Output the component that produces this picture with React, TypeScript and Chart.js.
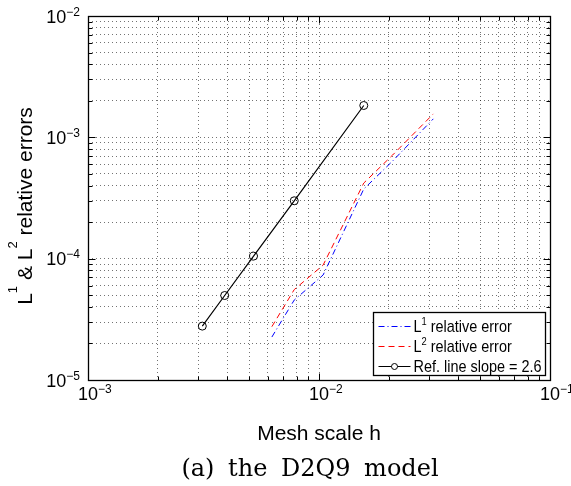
import { useEffect, useRef } from 'react';
import { Chart, registerables } from 'chart.js';

Chart.register(...registerables);

// Mesh scales h and the measured relative errors of the simulation
const meshH = [0.00625, 0.0078125, 0.0104167, 0.015625, 0.0208333, 0.03125];
const l1Err = [2.26e-5, 4.56e-5, 7.33e-5, 3.75e-4, 6.38e-4, 1.42e-3];
const l2Err = [2.75e-5, 5.56e-5, 8.85e-5, 4.2e-4, 7.15e-4, 1.56e-3];

// Reference line of slope 2.6
const refH = [0.003125, 0.00390625, 0.00520833, 0.0078125, 0.015625];
const refErr = [2.78e-5, 4.97e-5, 1.05e-4, 3.0e-4, 1.83e-3];

// Axis decades (exponents of the labelled ticks)
const xDecades = [-3, -2, -1];
const yDecades = [-5, -4, -3, -2];

const legendItems = [
  { base: 'L', sup: '1', rest: ' relative error' },
  { base: 'L', sup: '2', rest: ' relative error' },
  { base: 'Ref. line slope = 2.6', sup: '', rest: '' },
];

const xTitle = 'Mesh scale h';
const caption = '(a) the D2Q9 model';

const SANS = '"Liberation Sans", Arial, Helvetica, sans-serif';

function logTicks(decades: number[]): number[] {
  const out: number[] = [];
  for (let i = 0; i < decades.length - 1; i++) {
    for (let m = 1; m <= 9; m++) out.push(m * Math.pow(10, decades[i]));
  }
  out.push(Math.pow(10, decades[decades.length - 1]));
  return out;
}

type Run = { text: string; sup?: boolean };

function runsWidth(ctx: CanvasRenderingContext2D, runs: Run[], font: string, supFont: string) {
  let w = 0;
  for (const r of runs) {
    ctx.font = r.sup ? supFont : font;
    w += ctx.measureText(r.text).width;
  }
  return w;
}

function drawRuns(
  ctx: CanvasRenderingContext2D,
  runs: Run[],
  x: number,
  y: number,
  font: string,
  supFont: string,
  raise: number
) {
  let cx = x;
  ctx.textAlign = 'left';
  ctx.textBaseline = 'alphabetic';
  for (const r of runs) {
    ctx.font = r.sup ? supFont : font;
    ctx.fillText(r.text, cx, r.sup ? y - raise : y);
    cx += ctx.measureText(r.text).width;
  }
}

function itemRuns(item: { base: string; sup: string; rest: string }): Run[] {
  const runs: Run[] = [{ text: item.base }];
  if (item.sup) runs.push({ text: item.sup, sup: true });
  if (item.rest) runs.push({ text: item.rest });
  return runs;
}

const decorPlugin = {
  id: 'decor',
  afterDraw(chart: any) {
    const ctx: CanvasRenderingContext2D = chart.ctx;
    const { left, right, top, bottom } = chart.chartArea;
    const xs = chart.scales.x;
    const ys = chart.scales.y;
    const L = Math.round(left) + 0.5;
    const R = Math.round(right) + 0.5;
    const T = Math.round(top) + 0.5;
    const B = Math.round(bottom) + 0.5;

    ctx.save();
    ctx.strokeStyle = '#000';
    ctx.fillStyle = '#000';
    ctx.lineWidth = 1;

    // inward tick marks on all four sides
    const isMajor = (v: number) => Math.abs(Math.log10(v) - Math.round(Math.log10(v))) < 1e-9;
    ctx.beginPath();
    for (const v of logTicks(xDecades)) {
      const px = Math.round(xs.getPixelForValue(v)) + 0.5;
      const len = isMajor(v) ? 7 : 4;
      ctx.moveTo(px, B);
      ctx.lineTo(px, B - len);
      ctx.moveTo(px, T);
      ctx.lineTo(px, T + len);
    }
    for (const v of logTicks(yDecades)) {
      const py = Math.round(ys.getPixelForValue(v)) + 0.5;
      const len = isMajor(v) ? 7 : 4;
      ctx.moveTo(L, py);
      ctx.lineTo(L + len, py);
      ctx.moveTo(R, py);
      ctx.lineTo(R - len, py);
    }
    ctx.stroke();

    // axes box
    ctx.lineWidth = 1.3;
    ctx.strokeRect(L, T, R - L, B - T);

    const tickFont = `18px ${SANS}`;
    const tickSup = `12px ${SANS}`;

    // y tick labels 10^n
    for (const e of yDecades) {
      const py = ys.getPixelForValue(Math.pow(10, e));
      const runs: Run[] = [{ text: '10' }, { text: '\u2212' + Math.abs(e), sup: true }];
      const w = runsWidth(ctx, runs, tickFont, tickSup);
      drawRuns(ctx, runs, left - 8 - w, py + 6.5, tickFont, tickSup, 7);
    }

    // x tick labels 10^n
    for (const e of xDecades) {
      const px = xs.getPixelForValue(Math.pow(10, e));
      ctx.font = tickFont;
      const bw = ctx.measureText('10').width;
      const runs: Run[] = [{ text: '10' }, { text: '\u2212' + Math.abs(e), sup: true }];
      drawRuns(ctx, runs, px - bw / 2, bottom + 19.5, tickFont, tickSup, 7);
    }

    // x axis title
    ctx.font = `21px ${SANS}`;
    ctx.textAlign = 'center';
    ctx.textBaseline = 'alphabetic';
    ctx.fillText(xTitle, (left + right) / 2, bottom + 60);

    // y axis title (rotated)
    const yRuns: Run[] = [
      { text: 'L' },
      { text: '1', sup: true },
      { text: ' & L' },
      { text: '2', sup: true },
      { text: ' relative errors' },
    ];
    const titleFont = `21px ${SANS}`;
    const titleSup = `13px ${SANS}`;
    ctx.save();
    ctx.translate(32, (top + bottom) / 2 + 8);
    ctx.rotate(-Math.PI / 2);
    const yw = runsWidth(ctx, yRuns, titleFont, titleSup);
    drawRuns(ctx, yRuns, -yw / 2, 0, titleFont, titleSup, 15);
    ctx.restore();

    // legend
    const bw = 172;
    const bh = 63;
    const bx = Math.round(right - 5 - bw) + 0.5;
    const by = Math.round(bottom - 5 - bh) + 0.5;
    ctx.fillStyle = '#fff';
    ctx.fillRect(bx, by, bw, bh);
    ctx.strokeStyle = '#000';
    ctx.lineWidth = 1.3;
    ctx.strokeRect(bx, by, bw, bh);

    const sampleStyles = [
      { color: '#0000ff', dash: [6, 3, 1, 3] },
      { color: '#ff0000', dash: [6, 4] },
      { color: '#000000', dash: [] as number[] },
    ];
    const legFont = `17px ${SANS}`;
    const legSup = `11px ${SANS}`;
    const textStart = bx + 40;
    const textRoom = bw - 44;
    const widest = Math.max(...legendItems.map((it) => runsWidth(ctx, itemRuns(it), legFont, legSup)));
    const sx = Math.min(1, textRoom / widest);
    legendItems.forEach((item, i) => {
      const cy = by + 13 + i * 20;
      const s = sampleStyles[i];
      ctx.save();
      ctx.strokeStyle = s.color;
      ctx.lineWidth = 1;
      ctx.setLineDash(s.dash);
      ctx.beginPath();
      ctx.moveTo(bx + 5, Math.round(cy) + 0.5);
      ctx.lineTo(bx + 37, Math.round(cy) + 0.5);
      ctx.stroke();
      ctx.setLineDash([]);
      if (i === 2) {
        ctx.fillStyle = '#fff';
        ctx.beginPath();
        ctx.arc(bx + 21, Math.round(cy) + 0.5, 3, 0, Math.PI * 2);
        ctx.fill();
        ctx.stroke();
      }
      ctx.restore();
      ctx.save();
      ctx.fillStyle = '#000';
      ctx.translate(textStart, cy + 6);
      ctx.scale(sx, 1);
      drawRuns(ctx, itemRuns(item), 0, 0, legFont, legSup, 7);
      ctx.restore();
    });

    // figure caption
    ctx.fillStyle = '#000';
    ctx.font = `24px "DejaVu Serif", "Liberation Serif", serif`;
    ctx.textAlign = 'center';
    ctx.textBaseline = 'alphabetic';
    (ctx as any).wordSpacing = '6px';
    ctx.fillText(caption, 310, 476);
    (ctx as any).wordSpacing = '0px';

    ctx.restore();
  },
};

export default function App() {
  const canvasRef = useRef<HTMLCanvasElement | null>(null);

  useEffect(() => {
    document.body.style.margin = '0';
    const canvas = canvasRef.current;
    if (!canvas) return;

    const toPoints = (xsArr: number[], ysArr: number[]) =>
      xsArr.map((x, i) => ({ x, y: ysArr[i] }));

    const chart = new Chart(canvas, {
      type: 'line',
      data: {
        datasets: [
          {
            label: 'L1 relative error',
            data: toPoints(meshH, l1Err),
            borderColor: '#0000ff',
            borderWidth: 1,
            borderDash: [6, 3, 1, 3],
            pointRadius: 0,
            fill: false,
            tension: 0,
          },
          {
            label: 'L2 relative error',
            data: toPoints(meshH, l2Err),
            borderColor: '#ff0000',
            borderWidth: 1,
            borderDash: [6, 4],
            pointRadius: 0,
            fill: false,
            tension: 0,
          },
          {
            label: 'Ref. line slope = 2.6',
            data: toPoints(refH, refErr),
            borderColor: '#000000',
            borderWidth: 1.2,
            pointRadius: 4,
            pointBorderWidth: 1,
            pointBorderColor: '#000000',
            pointBackgroundColor: 'rgba(255,255,255,0)',
            fill: false,
            tension: 0,
          },
        ],
      },
      options: {
        responsive: false,
        animation: false,
        layout: { padding: { left: 88, top: 16, right: 21, bottom: 106 } },
        plugins: {
          legend: { display: false },
          tooltip: { enabled: false },
          title: { display: false },
        },
        scales: {
          x: {
            type: 'logarithmic',
            min: Math.pow(10, xDecades[0]),
            max: Math.pow(10, xDecades[xDecades.length - 1]),
            afterBuildTicks: (axis: any) => {
              axis.ticks = logTicks(xDecades).map((v) => ({ value: v }));
            },
            ticks: { display: false },
            grid: { color: 'rgba(0,0,0,0.55)', lineWidth: 1, drawTicks: false },
            border: { display: false, dash: [1, 3] },
          },
          y: {
            type: 'logarithmic',
            min: Math.pow(10, yDecades[0]),
            max: Math.pow(10, yDecades[yDecades.length - 1]),
            afterBuildTicks: (axis: any) => {
              axis.ticks = logTicks(yDecades).map((v) => ({ value: v }));
            },
            ticks: { display: false },
            grid: { color: 'rgba(0,0,0,0.55)', lineWidth: 1, drawTicks: false },
            border: { display: false, dash: [1, 3] },
          },
        },
      },
      plugins: [decorPlugin],
    });

    return () => chart.destroy();
  }, []);

  return (
    <div style={{ width: 571, height: 486, background: '#fff' }}>
      <canvas ref={canvasRef} width={571} height={486} style={{ display: 'block' }} />
    </div>
  );
}
